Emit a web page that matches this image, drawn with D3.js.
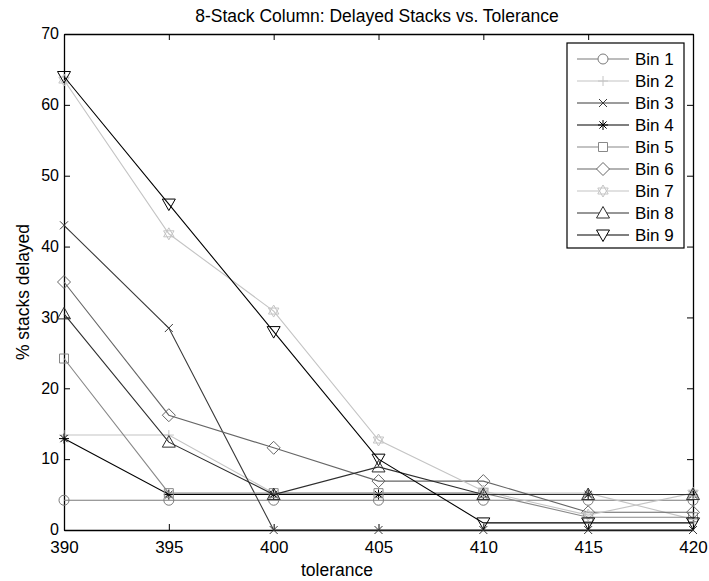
<!DOCTYPE html>
<html>
<head>
<meta charset="utf-8">
<script src="https://cdn.jsdelivr.net/npm/d3@7"></script>
<style>
  body { margin: 0; background: #fff; }
  text { font-family: "Liberation Sans", Arial, sans-serif; fill: #000; }
</style>
</head>
<body>
<div id="chart"></div>
<script>
// Chart data
var tolerance = [390, 395, 400, 405, 410, 415, 420];
var binNames = ["Bin 1", "Bin 2", "Bin 3", "Bin 4", "Bin 5", "Bin 6", "Bin 7", "Bin 8", "Bin 9"];
var bin1 = [4.2, 4.2, 4.2, 4.2, 4.2, 4.2, 4.2];
var bin2 = [13.4, 13.4, 5.2, 5.2, 5.2, 5.2, 1.5];
var bin3 = [43, 28.5, 0, 0, 0, 0, 0];
var bin4 = [12.9, 5, 5, 5, 5, 5, 5];
var bin5 = [24.2, 5.2, 5.2, 5.2, 5.2, 1.8, 1.8];
var bin6 = [35, 16.2, 11.6, 6.9, 6.9, 2.5, 2.5];
var bin7 = [63.5, 41.8, 30.9, 12.7, 5.5, 2.1, 5.2];
var bin8 = [30.5, 12.4, 5, 8.9, 5, 5, 5];
var bin9 = [64, 46, 28, 10, 1, 1, 1];
var xTicks = [390, 395, 400, 405, 410, 415, 420];
var yTicks = [0, 10, 20, 30, 40, 50, 60, 70];

var allBins = [bin1, bin2, bin3, bin4, bin5, bin6, bin7, bin8, bin9];
var markers = ["circle", "plus", "x", "star", "square", "diamond", "hexagram", "up", "down"];
var colors = ["#7a7a7a", "#c4c4c4", "#3a3a3a", "#000000", "#888888", "#666666", "#c4c4c4", "#2e2e2e", "#000000"];

var svgWidth = 709;
var svgHeight = 581;
var plot = { left: 64, right: 693, top: 34, bottom: 530 };

var svg = d3.select("#chart")
  .append("svg")
  .attr("width", svgWidth)
  .attr("height", svgHeight);

var xScale = d3.scaleLinear().domain([390, 420]).range([plot.left, plot.right]);
var yScale = d3.scaleLinear().domain([0, 70]).range([plot.bottom, plot.top]);

// marker path for a given type, centred on 0,0
function markerPath(type) {
  var p = d3.path();
  if (type === "circle") {
    p.moveTo(5, 0); p.arc(0, 0, 5, 0, 2 * Math.PI);
  } else if (type === "plus") {
    p.moveTo(-5, 0); p.lineTo(5, 0); p.moveTo(0, -5); p.lineTo(0, 5);
  } else if (type === "x") {
    p.moveTo(-4, -4); p.lineTo(4, 4); p.moveTo(-4, 4); p.lineTo(4, -4);
  } else if (type === "star") {
    p.moveTo(-5, 0); p.lineTo(5, 0); p.moveTo(0, -5); p.lineTo(0, 5);
    p.moveTo(-3.6, -3.6); p.lineTo(3.6, 3.6); p.moveTo(-3.6, 3.6); p.lineTo(3.6, -3.6);
  } else if (type === "square") {
    p.rect(-4.5, -4.5, 9, 9);
  } else if (type === "diamond") {
    p.moveTo(0, -6.5); p.lineTo(6.5, 0); p.lineTo(0, 6.5); p.lineTo(-6.5, 0); p.closePath();
  } else if (type === "hexagram") {
    var r = 6;
    for (var k = 0; k < 2; k++) {
      for (var i = 0; i < 3; i++) {
        var a = -Math.PI / 2 + k * Math.PI + i * 2 * Math.PI / 3;
        if (i === 0) p.moveTo(r * Math.cos(a), r * Math.sin(a));
        else p.lineTo(r * Math.cos(a), r * Math.sin(a));
      }
      p.closePath();
    }
  } else if (type === "up") {
    p.moveTo(0, -6.5); p.lineTo(6.5, 5); p.lineTo(-6.5, 5); p.closePath();
  } else if (type === "down") {
    p.moveTo(0, 6.5); p.lineTo(6.5, -5); p.lineTo(-6.5, -5); p.closePath();
  }
  return p.toString();
}

// Axes: ticks point inward on all four sides
var xAxis = svg.append("g")
  .attr("transform", `translate(0, ${plot.bottom})`)
  .call(d3.axisBottom(xScale).tickValues(xTicks).tickSizeInner(-6).tickSizeOuter(0).tickPadding(11));
xAxis.selectAll("text").attr("font-size", 17);

svg.append("g")
  .attr("transform", `translate(0, ${plot.top})`)
  .call(d3.axisTop(xScale).tickValues(xTicks).tickSizeInner(-6).tickSizeOuter(0).tickFormat(""));

var yAxis = svg.append("g")
  .attr("transform", `translate(${plot.left}, 0)`)
  .call(d3.axisLeft(yScale).tickValues(yTicks).tickSizeInner(-6).tickSizeOuter(0).tickPadding(5));
yAxis.selectAll("text").attr("font-size", 16).attr("dy", "0.3em");

svg.append("g")
  .attr("transform", `translate(${plot.right}, 0)`)
  .call(d3.axisRight(yScale).tickValues(yTicks).tickSizeInner(-6).tickSizeOuter(0).tickFormat(""));

svg.selectAll(".domain").attr("stroke", "#000").attr("stroke-width", 1.3);
svg.selectAll(".tick line").attr("stroke", "#000");
svg.selectAll(".tick text")
  .attr("font-family", "Liberation Sans, Arial, sans-serif")
  .attr("fill", "#000");

// Series lines + markers
var line = d3.line()
  .x(function(d, i) { return xScale(tolerance[i]); })
  .y(function(d) { return yScale(d); });

allBins.forEach(function(vals, s) {
  var g = svg.append("g");
  g.append("path")
    .attr("d", line(vals))
    .attr("fill", "none")
    .attr("stroke", colors[s])
    .attr("stroke-width", 1.1);
  g.selectAll("path.mk")
    .data(vals)
    .enter()
    .append("path")
    .attr("class", "mk")
    .attr("d", markerPath(markers[s]))
    .attr("transform", function(d, i) { return `translate(${xScale(tolerance[i])}, ${yScale(d)})`; })
    .attr("fill", "none")
    .attr("stroke", colors[s])
    .attr("stroke-width", 1);
});

// Title and axis labels
svg.append("text")
  .attr("x", 377)
  .attr("y", 22)
  .attr("text-anchor", "middle")
  .attr("font-size", 17.5)
  .text("8-Stack Column: Delayed Stacks vs. Tolerance");

svg.append("text")
  .attr("x", 337)
  .attr("y", 576)
  .attr("text-anchor", "middle")
  .attr("font-size", 17.5)
  .text("tolerance");

svg.append("text")
  .attr("transform", "translate(29, 292) rotate(-90)")
  .attr("text-anchor", "middle")
  .attr("font-size", 17.5)
  .text("% stacks delayed");

// Legend
var legend = svg.append("g");
legend.append("rect")
  .attr("x", 567)
  .attr("y", 43)
  .attr("width", 117)
  .attr("height", 205)
  .attr("fill", "#fff")
  .attr("stroke", "#000")
  .attr("stroke-width", 1.2);

binNames.forEach(function(name, s) {
  var ly = 59 + s * 22;
  legend.append("line")
    .attr("x1", 577).attr("x2", 629)
    .attr("y1", ly).attr("y2", ly)
    .attr("stroke", colors[s])
    .attr("stroke-width", 1.1);
  legend.append("path")
    .attr("d", markerPath(markers[s]))
    .attr("transform", `translate(603, ${ly})`)
    .attr("fill", "#fff")
    .attr("stroke", colors[s]);
  legend.append("text")
    .attr("x", 635)
    .attr("y", ly + 6)
    .attr("font-size", 17)
    .text(name);
});
</script>
</body>
</html>
